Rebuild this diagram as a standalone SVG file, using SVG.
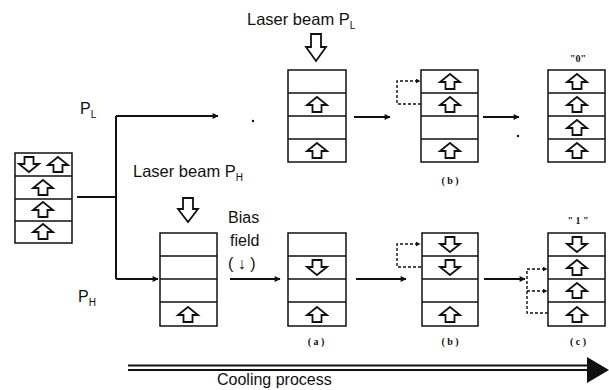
<svg xmlns="http://www.w3.org/2000/svg" width="609" height="390" viewBox="0 0 609 390">
<style>
.box{fill:#fff;stroke:#111;stroke-width:1.5}
.sep{stroke:#111;stroke-width:1.3}
.ar{fill:#fff;stroke:#111;stroke-width:1.8;stroke-linejoin:miter}
.ln{fill:none;stroke:#111;stroke-width:2}
.dash{fill:none;stroke:#111;stroke-width:1.4;stroke-dasharray:3 2}
.t{font-family:"Liberation Sans",Arial,sans-serif;fill:#111}
.s{font-family:"Liberation Serif","Times New Roman",serif;fill:#111;font-size:10px;font-weight:bold}
</style>
<defs>
<marker id="ah" viewBox="0 0 10 10" refX="9" refY="5" markerWidth="5" markerHeight="5" orient="auto" markerUnits="userSpaceOnUse"><path d="M0,0 L10,5 L0,10 Z" fill="#111"/></marker>
<marker id="ahs" viewBox="0 0 10 10" refX="9" refY="5" markerWidth="7" markerHeight="6" orient="auto" markerUnits="userSpaceOnUse"><path d="M0,0 L10,5 L0,10 Z" fill="#111"/></marker>
<path id="up" d="M0,-8 L10,0 L4.5,0 L4.5,7 L-4.5,7 L-4.5,0 L-10,0 Z"/>
<path id="dn" d="M0,8 L10,0 L4.5,0 L4.5,-7 L-4.5,-7 L-4.5,0 L-10,0 Z"/>
</defs>
<rect width="609" height="390" fill="#fff"/>

<g id="connectors">
<path class="ln" d="M77,197 H116 M116,116 V279"/>
<path class="ln" d="M116,116 H218" marker-end="url(#ahs)"/>
<path class="ln" d="M116,279 H158" marker-end="url(#ahs)"/>
<path class="ln" d="M354,117 H390" marker-end="url(#ahs)"/>
<path class="ln" d="M483,117 H519" marker-end="url(#ahs)"/>
<path class="ln" d="M230,279 H280" marker-end="url(#ahs)"/>
<path class="ln" d="M356,279 H406" marker-end="url(#ahs)"/>
<path class="ln" d="M484,279 H525" marker-end="url(#ahs)"/>
<path class="dash" d="M421,104 H397 V81 H420" marker-end="url(#ah)"/>
<path class="dash" d="M421,267 H397 V244 H420" marker-end="url(#ah)"/>
<path class="dash" d="M548,313 H527 V269 H547" marker-end="url(#ah)"/>
<path class="dash" d="M527,291 H547" marker-end="url(#ah)"/>
<circle cx="253" cy="121" r="1.2" fill="#111"/>
<circle cx="518" cy="136" r="1.2" fill="#111"/>
</g>

<g id="stack-initial">
<rect class="box" x="15" y="153" width="57" height="90"/>
<path class="sep" d="M15,176 H72 M15,199 H72 M15,221 H72"/>
<use href="#dn" class="ar" x="29" y="164"/>
<use href="#up" class="ar" x="58" y="165"/>
<use href="#up" class="ar" x="43" y="188"/>
<use href="#up" class="ar" x="43" y="210"/>
<use href="#up" class="ar" x="43" y="232"/>
</g>

<g id="label-PL"><text class="t" x="80" y="114" font-size="16">P<tspan font-size="10" dy="4">L</tspan></text></g>
<g id="label-PH"><text class="t" x="78" y="302" font-size="16">P<tspan font-size="10" dy="4">H</tspan></text></g>

<g id="laser-PL">
<text class="t" x="247" y="25" font-size="16.5">Laser beam P<tspan font-size="10" dy="4">L</tspan></text>
<path class="ar" d="M311,34 H321 V47 H326 L316,61 L306,47 H311 Z"/>
</g>

<g id="laser-PH">
<text class="t" x="133" y="177" font-size="16.5">Laser beam P<tspan font-size="10" dy="4">H</tspan></text>
<path class="ar" d="M183,198 H193 V209 H198 L188,222 L178,209 H183 Z"/>
</g>

<g id="bias-field">
<text class="t" x="228" y="223" font-size="16">Bias</text>
<text class="t" x="230" y="246" font-size="16">field</text>
<text class="t" x="228" y="269" font-size="16">( ↓ )</text>
</g>

<g id="stack-top-a">
<rect class="box" x="288" y="70" width="58" height="92"/>
<path class="sep" d="M288,93 H346 M288,116 H346 M288,139 H346"/>
<use href="#up" class="ar" x="317" y="105"/>
<use href="#up" class="ar" x="317" y="151"/>
</g>

<g id="stack-top-b">
<rect class="box" x="421" y="70" width="57" height="92"/>
<path class="sep" d="M421,93 H478 M421,116 H478 M421,139 H478"/>
<use href="#up" class="ar" x="450" y="82"/>
<use href="#up" class="ar" x="450" y="105"/>
<use href="#up" class="ar" x="450" y="151"/>
<text class="s" x="450" y="184" text-anchor="middle">( b )</text>
</g>

<g id="stack-top-0">
<text class="s" x="578" y="62" text-anchor="middle" font-size="11">"0"</text>
<rect class="box" x="548" y="70" width="57" height="92"/>
<path class="sep" d="M548,93 H605 M548,116 H605 M548,139 H605"/>
<use href="#up" class="ar" x="577" y="82"/>
<use href="#up" class="ar" x="577" y="105"/>
<use href="#up" class="ar" x="577" y="128"/>
<use href="#up" class="ar" x="577" y="151"/>
</g>

<g id="stack-bias">
<rect class="box" x="160" y="233" width="57" height="93"/>
<path class="sep" d="M160,256 H217 M160,279 H217 M160,302 H217"/>
<use href="#up" class="ar" x="188" y="315"/>
</g>

<g id="stack-bottom-a">
<rect class="box" x="288" y="233" width="58" height="93"/>
<path class="sep" d="M288,256 H346 M288,279 H346 M288,302 H346"/>
<use href="#dn" class="ar" x="317" y="267"/>
<use href="#up" class="ar" x="317" y="315"/>
<text class="s" x="316" y="345" text-anchor="middle">( a )</text>
</g>

<g id="stack-bottom-b">
<rect class="box" x="422" y="233" width="56" height="93"/>
<path class="sep" d="M422,256 H478 M422,279 H478 M422,302 H478"/>
<use href="#dn" class="ar" x="450" y="244"/>
<use href="#dn" class="ar" x="450" y="267"/>
<use href="#up" class="ar" x="450" y="315"/>
<text class="s" x="450" y="345" text-anchor="middle">( b )</text>
</g>

<g id="stack-bottom-c">
<text class="s" x="578" y="224" text-anchor="middle" font-size="11">" 1 "</text>
<rect class="box" x="548" y="233" width="57" height="93"/>
<path class="sep" d="M548,256 H605 M548,279 H605 M548,302 H605"/>
<use href="#dn" class="ar" x="577" y="244"/>
<use href="#up" class="ar" x="577" y="268"/>
<use href="#up" class="ar" x="577" y="291"/>
<use href="#up" class="ar" x="577" y="315"/>
<text class="s" x="578" y="345" text-anchor="middle">( c )</text>
</g>

<g id="cooling">
<path d="M128,365.5 H590 M128,370 H590" stroke="#111" stroke-width="2" fill="none"/>
<path d="M587,357 L609,370 L587,383 Z" fill="#111"/>
<text class="t" x="217" y="385" font-size="16">Cooling process</text>
</g>
</svg>
